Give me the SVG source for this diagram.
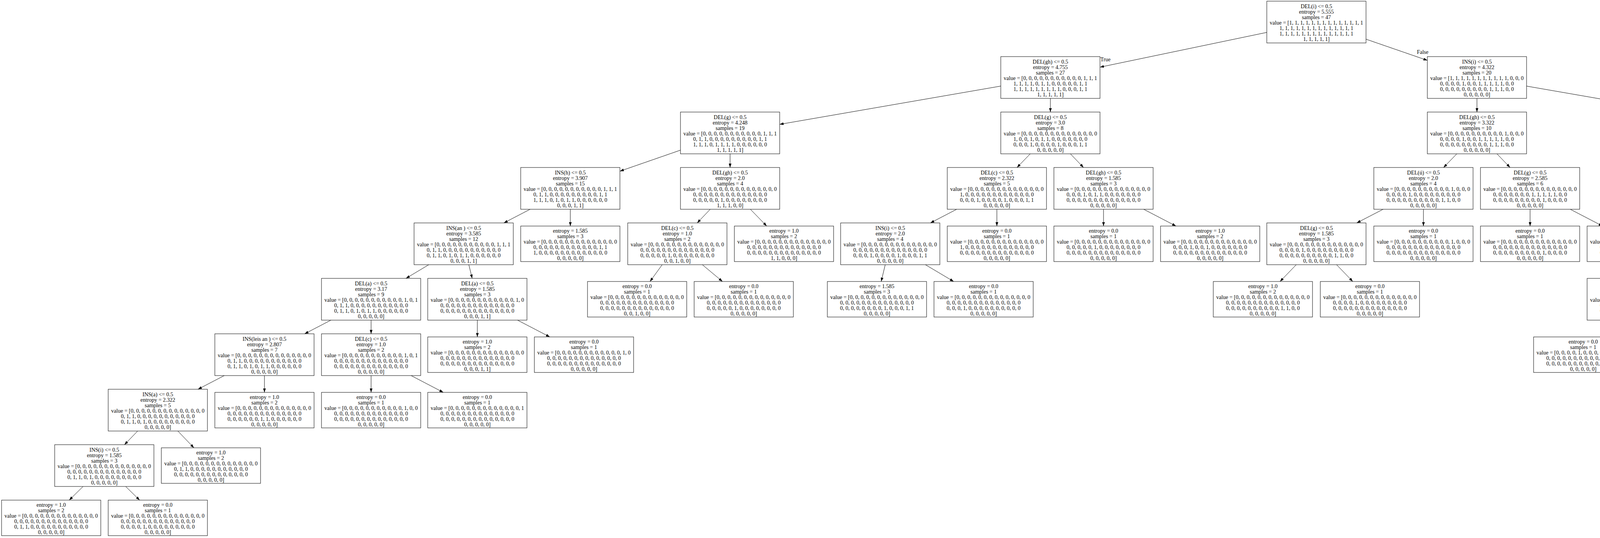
<svg xmlns="http://www.w3.org/2000/svg" width="6369" height="1378" viewBox="0 0 6369 1378">
<style>
.b{fill:#fff;stroke:#000;stroke-width:1}
text{font-family:"Liberation Serif","Times New Roman",serif;font-size:14px;text-anchor:middle;fill:#000}
.e{stroke:#000;stroke-width:1;fill:none;marker-end:url(#ah)}
</style>
<defs>
<marker id="ah" markerUnits="userSpaceOnUse" markerWidth="10" markerHeight="7" refX="10" refY="3.5" orient="auto"><path d="M0,0 L10,3.5 L0,7 z" fill="#000"/></marker>
</defs>
<rect x="0" y="0" width="6369" height="1378" fill="#fff"/>
<g id="edges">
<line class="e" x1="3243" y1="82.98" x2="2816" y2="172.02"/>
<line class="e" x1="3497" y1="100.38" x2="3654" y2="154.62"/>
<line class="e" x1="2562" y1="220.49" x2="1996" y2="318.51"/>
<line class="e" x1="2689" y1="252" x2="2689" y2="287"/>
<line class="e" x1="3781" y1="252" x2="3781" y2="287"/>
<line class="e" x1="3908" y1="220.55" x2="4472" y2="318.45"/>
<line class="e" x1="1742" y1="384.59" x2="1587" y2="438.41"/>
<line class="e" x1="1869" y1="394" x2="1869" y2="429"/>
<line class="e" x1="2637.38" y1="394" x2="2603.62" y2="429"/>
<line class="e" x1="2740.24" y1="394" x2="2773.76" y2="429"/>
<line class="e" x1="1357.14" y1="536" x2="1289.86" y2="571"/>
<line class="e" x1="1460" y1="536" x2="1460" y2="579"/>
<line class="e" x1="1818.14" y1="536" x2="1784.86" y2="571"/>
<line class="e" x1="1920.99" y1="536" x2="1962.78" y2="579"/>
<line class="e" x1="2449.14" y1="536" x2="2381.86" y2="571"/>
<line class="e" x1="2552" y1="536" x2="2552" y2="579"/>
<line class="e" x1="2825" y1="536" x2="2825" y2="579"/>
<line class="e" x1="2927.86" y1="536" x2="3010.53" y2="579"/>
<line class="e" x1="1097.71" y1="678" x2="1039.29" y2="713"/>
<line class="e" x1="1200.19" y1="678" x2="1208.81" y2="713"/>
<line class="e" x1="1695.19" y1="678" x2="1664" y2="721"/>
<line class="e" x1="1798.05" y1="678" x2="1849.53" y2="721"/>
<line class="e" x1="2266.19" y1="678" x2="2255.89" y2="721"/>
<line class="e" x1="2369.05" y1="678" x2="2441.42" y2="721"/>
<line class="e" x1="847.14" y1="820" x2="779.86" y2="855"/>
<line class="e" x1="950" y1="820" x2="950" y2="855"/>
<line class="e" x1="1222" y1="820" x2="1222" y2="863"/>
<line class="e" x1="1324.86" y1="820" x2="1407.53" y2="863"/>
<line class="e" x1="574.14" y1="962" x2="506.86" y2="997"/>
<line class="e" x1="677" y1="962" x2="677" y2="1005"/>
<line class="e" x1="950" y1="962" x2="950" y2="1005"/>
<line class="e" x1="1052.48" y1="962" x2="1134.85" y2="1005"/>
<line class="e" x1="352.38" y1="1104" x2="318.62" y2="1139"/>
<line class="e" x1="455.24" y1="1104" x2="496.42" y2="1147"/>
<line class="e" x1="212.7" y1="1246" x2="177.18" y2="1281"/>
<line class="e" x1="321.7" y1="1246" x2="357.48" y2="1281"/>
<line class="e" x1="3729.38" y1="394" x2="3695.62" y2="429"/>
<line class="e" x1="3832.24" y1="394" x2="3865.76" y2="429"/>
<line class="e" x1="4599" y1="394" x2="4599" y2="429"/>
<line class="e" x1="4726" y1="362.52" x2="5291" y2="460.48"/>
<line class="e" x1="3540.77" y1="536" x2="3473.23" y2="571"/>
<line class="e" x1="3644" y1="536" x2="3644" y2="579"/>
<line class="e" x1="3917" y1="536" x2="3917" y2="579"/>
<line class="e" x1="4019.86" y1="536" x2="4102.53" y2="579"/>
<line class="e" x1="4547.76" y1="536" x2="4514.24" y2="571"/>
<line class="e" x1="4650.62" y1="536" x2="4684.38" y2="571"/>
<line class="e" x1="5418" y1="536" x2="5418" y2="571"/>
<line class="e" x1="5545" y1="526.59" x2="5700" y2="580.41"/>
<line class="e" x1="3318.38" y1="678" x2="3276.9" y2="721"/>
<line class="e" x1="3421.62" y1="678" x2="3463.1" y2="721"/>
<line class="e" x1="4360.14" y1="678" x2="4292.86" y2="713"/>
<line class="e" x1="4463" y1="678" x2="4463" y2="721"/>
<line class="e" x1="4736" y1="678" x2="4736" y2="721"/>
<line class="e" x1="4838.86" y1="678" x2="4921.53" y2="721"/>
<line class="e" x1="5366.76" y1="678" x2="5325.58" y2="721"/>
<line class="e" x1="5469.62" y1="678" x2="5511.1" y2="721"/>
<line class="e" x1="5827" y1="678" x2="5827" y2="721"/>
<line class="e" x1="5930.23" y1="678" x2="5997.77" y2="713"/>
<line class="e" x1="4138.38" y1="820" x2="4096.9" y2="863"/>
<line class="e" x1="4241.24" y1="820" x2="4282.42" y2="863"/>
<line class="e" x1="6049.38" y1="820" x2="6007.9" y2="863"/>
<line class="e" x1="6152.24" y1="820" x2="6193.42" y2="863"/>
<text x="2830" y="156.5">True</text>
<text x="3642" y="137.5">False</text>
</g>

<g id="n0" transform="translate(3370,56.5)"><rect class="b" x="-127" y="-53.5" width="254" height="107"/><text y="-35.5"><tspan x="0">DEL(i) &lt;= 0.5</tspan><tspan x="0" dy="14">entropy = 5.555</tspan><tspan x="0" dy="14">samples = 47</tspan><tspan x="0" dy="14">value = [1, 1, 1, 1, 1, 1, 1, 1, 1, 1, 1, 1, 1, 1</tspan><tspan x="0" dy="14">1, 1, 1, 1, 1, 1, 1, 1, 1, 1, 1, 1, 1, 1</tspan><tspan x="0" dy="14">1, 1, 1, 1, 1, 1, 1, 1, 1, 1, 1, 1, 1, 1</tspan><tspan x="0" dy="14">1, 1, 1, 1, 1]</tspan></text></g>

<g id="n1" transform="translate(2689,198.5)"><rect class="b" x="-127" y="-53.5" width="254" height="107"/><text y="-35.5"><tspan x="0">DEL(gh) &lt;= 0.5</tspan><tspan x="0" dy="14">entropy = 4.755</tspan><tspan x="0" dy="14">samples = 27</tspan><tspan x="0" dy="14">value = [0, 0, 0, 0, 0, 0, 0, 0, 0, 0, 0, 1, 1, 1</tspan><tspan x="0" dy="14">1, 1, 1, 1, 0, 1, 1, 0, 0, 0, 0, 0, 1, 1</tspan><tspan x="0" dy="14">1, 1, 1, 1, 1, 1, 1, 1, 1, 0, 0, 0, 1, 1</tspan><tspan x="0" dy="14">1, 1, 1, 1, 1]</tspan></text></g>

<g id="n2" transform="translate(3781,198.5)"><rect class="b" x="-127" y="-53.5" width="254" height="107"/><text y="-35.5"><tspan x="0">INS(i) &lt;= 0.5</tspan><tspan x="0" dy="14">entropy = 4.322</tspan><tspan x="0" dy="14">samples = 20</tspan><tspan x="0" dy="14">value = [1, 1, 1, 1, 1, 1, 1, 1, 1, 1, 1, 0, 0, 0</tspan><tspan x="0" dy="14">0, 0, 0, 0, 1, 0, 0, 1, 1, 1, 1, 1, 0, 0</tspan><tspan x="0" dy="14">0, 0, 0, 0, 0, 0, 0, 0, 0, 1, 1, 1, 0, 0</tspan><tspan x="0" dy="14">0, 0, 0, 0, 0]</tspan></text></g>

<g id="n3" transform="translate(1869,340.5)"><rect class="b" x="-127" y="-53.5" width="254" height="107"/><text y="-35.5"><tspan x="0">DEL(g) &lt;= 0.5</tspan><tspan x="0" dy="14">entropy = 4.248</tspan><tspan x="0" dy="14">samples = 19</tspan><tspan x="0" dy="14">value = [0, 0, 0, 0, 0, 0, 0, 0, 0, 0, 0, 1, 1, 1</tspan><tspan x="0" dy="14">0, 1, 1, 0, 0, 0, 0, 0, 0, 0, 0, 0, 1, 1</tspan><tspan x="0" dy="14">1, 1, 1, 0, 1, 1, 1, 1, 0, 0, 0, 0, 0, 0</tspan><tspan x="0" dy="14">1, 1, 1, 1, 1]</tspan></text></g>

<g id="n4" transform="translate(2689,340.5)"><rect class="b" x="-127" y="-53.5" width="254" height="107"/><text y="-35.5"><tspan x="0">DEL(g) &lt;= 0.5</tspan><tspan x="0" dy="14">entropy = 3.0</tspan><tspan x="0" dy="14">samples = 8</tspan><tspan x="0" dy="14">value = [0, 0, 0, 0, 0, 0, 0, 0, 0, 0, 0, 0, 0, 0</tspan><tspan x="0" dy="14">1, 0, 0, 1, 0, 1, 1, 0, 0, 0, 0, 0, 0, 0</tspan><tspan x="0" dy="14">0, 0, 0, 1, 0, 0, 0, 0, 1, 0, 0, 0, 1, 1</tspan><tspan x="0" dy="14">0, 0, 0, 0, 0]</tspan></text></g>

<g id="n18" transform="translate(3781,340.5)"><rect class="b" x="-127" y="-53.5" width="254" height="107"/><text y="-35.5"><tspan x="0">DEL(gh) &lt;= 0.5</tspan><tspan x="0" dy="14">entropy = 3.322</tspan><tspan x="0" dy="14">samples = 10</tspan><tspan x="0" dy="14">value = [0, 0, 0, 0, 0, 0, 0, 0, 0, 0, 1, 0, 0, 0</tspan><tspan x="0" dy="14">0, 0, 0, 0, 1, 0, 0, 1, 1, 1, 1, 1, 0, 0</tspan><tspan x="0" dy="14">0, 0, 0, 0, 0, 0, 0, 0, 0, 1, 1, 1, 0, 0</tspan><tspan x="0" dy="14">0, 0, 0, 0, 0]</tspan></text></g>

<g id="n19" transform="translate(4599,340.5)"><rect class="b" x="-127" y="-53.5" width="254" height="107"/><text y="-35.5"><tspan x="0">INS(an ) &lt;= 0.5</tspan><tspan x="0" dy="14">entropy = 3.322</tspan><tspan x="0" dy="14">samples = 10</tspan><tspan x="0" dy="14">value = [1, 1, 1, 1, 1, 1, 1, 1, 1, 1, 0, 0, 0, 0</tspan><tspan x="0" dy="14">0, 0, 0, 0, 0, 0, 0, 0, 0, 0, 0, 0, 0, 0</tspan><tspan x="0" dy="14">0, 0, 0, 0, 0, 0, 0, 0, 0, 0, 0, 0, 0, 0</tspan><tspan x="0" dy="14">0, 0, 0, 0, 0]</tspan></text></g>

<g id="n5" transform="translate(1460,482.5)"><rect class="b" x="-127" y="-53.5" width="254" height="107"/><text y="-35.5"><tspan x="0">INS(h) &lt;= 0.5</tspan><tspan x="0" dy="14">entropy = 3.907</tspan><tspan x="0" dy="14">samples = 15</tspan><tspan x="0" dy="14">value = [0, 0, 0, 0, 0, 0, 0, 0, 0, 0, 0, 1, 1, 1</tspan><tspan x="0" dy="14">0, 1, 1, 0, 0, 0, 0, 0, 0, 0, 0, 0, 1, 1</tspan><tspan x="0" dy="14">1, 1, 1, 0, 1, 0, 1, 1, 0, 0, 0, 0, 0, 0</tspan><tspan x="0" dy="14">0, 0, 0, 1, 1]</tspan></text></g>

<g id="n6" transform="translate(1869,482.5)"><rect class="b" x="-127" y="-53.5" width="254" height="107"/><text y="-35.5"><tspan x="0">DEL(gh) &lt;= 0.5</tspan><tspan x="0" dy="14">entropy = 2.0</tspan><tspan x="0" dy="14">samples = 4</tspan><tspan x="0" dy="14">value = [0, 0, 0, 0, 0, 0, 0, 0, 0, 0, 0, 0, 0, 0</tspan><tspan x="0" dy="14">0, 0, 0, 0, 0, 0, 0, 0, 0, 0, 0, 0, 0, 0</tspan><tspan x="0" dy="14">0, 0, 0, 0, 0, 1, 0, 0, 0, 0, 0, 0, 0, 0</tspan><tspan x="0" dy="14">1, 1, 1, 0, 0]</tspan></text></g>

<g id="n7" transform="translate(2552,482.5)"><rect class="b" x="-127" y="-53.5" width="254" height="107"/><text y="-35.5"><tspan x="0">DEL(c) &lt;= 0.5</tspan><tspan x="0" dy="14">entropy = 2.322</tspan><tspan x="0" dy="14">samples = 5</tspan><tspan x="0" dy="14">value = [0, 0, 0, 0, 0, 0, 0, 0, 0, 0, 0, 0, 0, 0</tspan><tspan x="0" dy="14">1, 0, 0, 0, 0, 0, 0, 0, 0, 0, 0, 0, 0, 0</tspan><tspan x="0" dy="14">0, 0, 0, 1, 0, 0, 0, 0, 1, 0, 0, 0, 1, 1</tspan><tspan x="0" dy="14">0, 0, 0, 0, 0]</tspan></text></g>

<g id="n8" transform="translate(2825,482.5)"><rect class="b" x="-127" y="-53.5" width="254" height="107"/><text y="-35.5"><tspan x="0">DEL(gh) &lt;= 0.5</tspan><tspan x="0" dy="14">entropy = 1.585</tspan><tspan x="0" dy="14">samples = 3</tspan><tspan x="0" dy="14">value = [0, 0, 0, 0, 0, 0, 0, 0, 0, 0, 0, 0, 0, 0</tspan><tspan x="0" dy="14">0, 0, 0, 1, 0, 1, 1, 0, 0, 0, 0, 0, 0, 0</tspan><tspan x="0" dy="14">0, 0, 0, 0, 0, 0, 0, 0, 0, 0, 0, 0, 0, 0</tspan><tspan x="0" dy="14">0, 0, 0, 0, 0]</tspan></text></g>

<g id="n20" transform="translate(3644,482.5)"><rect class="b" x="-127" y="-53.5" width="254" height="107"/><text y="-35.5"><tspan x="0">DEL(ú) &lt;= 0.5</tspan><tspan x="0" dy="14">entropy = 2.0</tspan><tspan x="0" dy="14">samples = 4</tspan><tspan x="0" dy="14">value = [0, 0, 0, 0, 0, 0, 0, 0, 0, 0, 1, 0, 0, 0</tspan><tspan x="0" dy="14">0, 0, 0, 0, 1, 0, 0, 0, 0, 0, 0, 0, 0, 0</tspan><tspan x="0" dy="14">0, 0, 0, 0, 0, 0, 0, 0, 0, 0, 1, 1, 0, 0</tspan><tspan x="0" dy="14">0, 0, 0, 0, 0]</tspan></text></g>

<g id="n21" transform="translate(3917,482.5)"><rect class="b" x="-127" y="-53.5" width="254" height="107"/><text y="-35.5"><tspan x="0">DEL(g) &lt;= 0.5</tspan><tspan x="0" dy="14">entropy = 2.585</tspan><tspan x="0" dy="14">samples = 6</tspan><tspan x="0" dy="14">value = [0, 0, 0, 0, 0, 0, 0, 0, 0, 0, 0, 0, 0, 0</tspan><tspan x="0" dy="14">0, 0, 0, 0, 0, 0, 0, 1, 1, 1, 1, 1, 0, 0</tspan><tspan x="0" dy="14">0, 0, 0, 0, 0, 0, 0, 0, 0, 1, 0, 0, 0, 0</tspan><tspan x="0" dy="14">0, 0, 0, 0, 0]</tspan></text></g>

<g id="n22" transform="translate(4599,482.5)"><rect class="b" x="-127" y="-53.5" width="254" height="107"/><text y="-35.5"><tspan x="0">DEL(igh) &lt;= 0.5</tspan><tspan x="0" dy="14">entropy = 2.322</tspan><tspan x="0" dy="14">samples = 5</tspan><tspan x="0" dy="14">value = [0, 0, 1, 1, 1, 0, 1, 1, 0, 0, 0, 0, 0, 0</tspan><tspan x="0" dy="14">0, 0, 0, 0, 0, 0, 0, 0, 0, 0, 0, 0, 0, 0</tspan><tspan x="0" dy="14">0, 0, 0, 0, 0, 0, 0, 0, 0, 0, 0, 0, 0, 0</tspan><tspan x="0" dy="14">0, 0, 0, 0, 0]</tspan></text></g>

<g id="n23" transform="translate(5418,482.5)"><rect class="b" x="-127" y="-53.5" width="254" height="107"/><text y="-35.5"><tspan x="0">INS(h) &lt;= 0.5</tspan><tspan x="0" dy="14">entropy = 2.322</tspan><tspan x="0" dy="14">samples = 5</tspan><tspan x="0" dy="14">value = [1, 1, 0, 0, 0, 1, 0, 0, 1, 1, 0, 0, 0, 0</tspan><tspan x="0" dy="14">0, 0, 0, 0, 0, 0, 0, 0, 0, 0, 0, 0, 0, 0</tspan><tspan x="0" dy="14">0, 0, 0, 0, 0, 0, 0, 0, 0, 0, 0, 0, 0, 0</tspan><tspan x="0" dy="14">0, 0, 0, 0, 0]</tspan></text></g>

<g id="n9" transform="translate(1187,624.5)"><rect class="b" x="-127" y="-53.5" width="254" height="107"/><text y="-35.5"><tspan x="0">INS(an ) &lt;= 0.5</tspan><tspan x="0" dy="14">entropy = 3.585</tspan><tspan x="0" dy="14">samples = 12</tspan><tspan x="0" dy="14">value = [0, 0, 0, 0, 0, 0, 0, 0, 0, 0, 0, 1, 1, 1</tspan><tspan x="0" dy="14">0, 1, 1, 0, 0, 0, 0, 0, 0, 0, 0, 0, 0, 0</tspan><tspan x="0" dy="14">0, 1, 1, 0, 1, 0, 1, 1, 0, 0, 0, 0, 0, 0</tspan><tspan x="0" dy="14">0, 0, 0, 1, 1]</tspan></text></g>

<g id="n10" transform="translate(1734,624.5)"><rect class="b" x="-127" y="-53.5" width="254" height="107"/><text y="-35.5"><tspan x="0">DEL(c) &lt;= 0.5</tspan><tspan x="0" dy="14">entropy = 1.0</tspan><tspan x="0" dy="14">samples = 2</tspan><tspan x="0" dy="14">value = [0, 0, 0, 0, 0, 0, 0, 0, 0, 0, 0, 0, 0, 0</tspan><tspan x="0" dy="14">0, 0, 0, 0, 0, 0, 0, 0, 0, 0, 0, 0, 0, 0</tspan><tspan x="0" dy="14">0, 0, 0, 0, 0, 1, 0, 0, 0, 0, 0, 0, 0, 0</tspan><tspan x="0" dy="14">0, 0, 1, 0, 0]</tspan></text></g>

<g id="n11" transform="translate(2279,624.5)"><rect class="b" x="-127" y="-53.5" width="254" height="107"/><text y="-35.5"><tspan x="0">INS(i) &lt;= 0.5</tspan><tspan x="0" dy="14">entropy = 2.0</tspan><tspan x="0" dy="14">samples = 4</tspan><tspan x="0" dy="14">value = [0, 0, 0, 0, 0, 0, 0, 0, 0, 0, 0, 0, 0, 0</tspan><tspan x="0" dy="14">0, 0, 0, 0, 0, 0, 0, 0, 0, 0, 0, 0, 0, 0</tspan><tspan x="0" dy="14">0, 0, 0, 1, 0, 0, 0, 0, 1, 0, 0, 0, 1, 1</tspan><tspan x="0" dy="14">0, 0, 0, 0, 0]</tspan></text></g>

<g id="n24" transform="translate(3370,624.5)"><rect class="b" x="-127" y="-53.5" width="254" height="107"/><text y="-35.5"><tspan x="0">DEL(g) &lt;= 0.5</tspan><tspan x="0" dy="14">entropy = 1.585</tspan><tspan x="0" dy="14">samples = 3</tspan><tspan x="0" dy="14">value = [0, 0, 0, 0, 0, 0, 0, 0, 0, 0, 0, 0, 0, 0</tspan><tspan x="0" dy="14">0, 0, 0, 0, 1, 0, 0, 0, 0, 0, 0, 0, 0, 0</tspan><tspan x="0" dy="14">0, 0, 0, 0, 0, 0, 0, 0, 0, 0, 1, 1, 0, 0</tspan><tspan x="0" dy="14">0, 0, 0, 0, 0]</tspan></text></g>

<g id="n25" transform="translate(4463,624.5)"><rect class="b" x="-127" y="-53.5" width="254" height="107"/><text y="-35.5"><tspan x="0">INS(leis an ) &lt;= 0.5</tspan><tspan x="0" dy="14">entropy = 1.585</tspan><tspan x="0" dy="14">samples = 3</tspan><tspan x="0" dy="14">value = [0, 0, 1, 0, 1, 0, 0, 1, 0, 0, 0, 0, 0, 0</tspan><tspan x="0" dy="14">0, 0, 0, 0, 0, 0, 0, 0, 0, 0, 0, 0, 0, 0</tspan><tspan x="0" dy="14">0, 0, 0, 0, 0, 0, 0, 0, 0, 0, 0, 0, 0, 0</tspan><tspan x="0" dy="14">0, 0, 0, 0, 0]</tspan></text></g>

<g id="n26" transform="translate(4736,624.5)"><rect class="b" x="-127" y="-53.5" width="254" height="107"/><text y="-35.5"><tspan x="0">DEL(e) &lt;= 0.5</tspan><tspan x="0" dy="14">entropy = 1.0</tspan><tspan x="0" dy="14">samples = 2</tspan><tspan x="0" dy="14">value = [0, 0, 0, 1, 0, 0, 1, 0, 0, 0, 0, 0, 0, 0</tspan><tspan x="0" dy="14">0, 0, 0, 0, 0, 0, 0, 0, 0, 0, 0, 0, 0, 0</tspan><tspan x="0" dy="14">0, 0, 0, 0, 0, 0, 0, 0, 0, 0, 0, 0, 0, 0</tspan><tspan x="0" dy="14">0, 0, 0, 0, 0]</tspan></text></g>

<g id="n27" transform="translate(5418,624.5)"><rect class="b" x="-127" y="-53.5" width="254" height="107"/><text y="-35.5"><tspan x="0">INS(a) &lt;= 0.5</tspan><tspan x="0" dy="14">entropy = 1.0</tspan><tspan x="0" dy="14">samples = 2</tspan><tspan x="0" dy="14">value = [0, 0, 0, 0, 0, 1, 0, 0, 1, 0, 0, 0, 0, 0</tspan><tspan x="0" dy="14">0, 0, 0, 0, 0, 0, 0, 0, 0, 0, 0, 0, 0, 0</tspan><tspan x="0" dy="14">0, 0, 0, 0, 0, 0, 0, 0, 0, 0, 0, 0, 0, 0</tspan><tspan x="0" dy="14">0, 0, 0, 0, 0]</tspan></text></g>

<g id="n28" transform="translate(5827,624.5)"><rect class="b" x="-127" y="-53.5" width="254" height="107"/><text y="-35.5"><tspan x="0">DEL(e) &lt;= 0.5</tspan><tspan x="0" dy="14">entropy = 1.585</tspan><tspan x="0" dy="14">samples = 3</tspan><tspan x="0" dy="14">value = [1, 1, 0, 0, 0, 0, 0, 0, 0, 1, 0, 0, 0, 0</tspan><tspan x="0" dy="14">0, 0, 0, 0, 0, 0, 0, 0, 0, 0, 0, 0, 0, 0</tspan><tspan x="0" dy="14">0, 0, 0, 0, 0, 0, 0, 0, 0, 0, 0, 0, 0, 0</tspan><tspan x="0" dy="14">0, 0, 0, 0, 0]</tspan></text></g>

<g id="n12" transform="translate(950,766.5)"><rect class="b" x="-127" y="-53.5" width="254" height="107"/><text y="-35.5"><tspan x="0">DEL(a) &lt;= 0.5</tspan><tspan x="0" dy="14">entropy = 3.17</tspan><tspan x="0" dy="14">samples = 9</tspan><tspan x="0" dy="14">value = [0, 0, 0, 0, 0, 0, 0, 0, 0, 0, 0, 1, 0, 1</tspan><tspan x="0" dy="14">0, 1, 1, 0, 0, 0, 0, 0, 0, 0, 0, 0, 0, 0</tspan><tspan x="0" dy="14">0, 1, 1, 0, 1, 0, 1, 1, 0, 0, 0, 0, 0, 0</tspan><tspan x="0" dy="14">0, 0, 0, 0, 0]</tspan></text></g>

<g id="n13" transform="translate(1222,766.5)"><rect class="b" x="-127" y="-53.5" width="254" height="107"/><text y="-35.5"><tspan x="0">DEL(a) &lt;= 0.5</tspan><tspan x="0" dy="14">entropy = 1.585</tspan><tspan x="0" dy="14">samples = 3</tspan><tspan x="0" dy="14">value = [0, 0, 0, 0, 0, 0, 0, 0, 0, 0, 0, 0, 1, 0</tspan><tspan x="0" dy="14">0, 0, 0, 0, 0, 0, 0, 0, 0, 0, 0, 0, 0, 0</tspan><tspan x="0" dy="14">0, 0, 0, 0, 0, 0, 0, 0, 0, 0, 0, 0, 0, 0</tspan><tspan x="0" dy="14">0, 0, 0, 1, 1]</tspan></text></g>

<g id="n29" transform="translate(4190,766.5)"><rect class="b" x="-127" y="-53.5" width="254" height="107"/><text y="-35.5"><tspan x="0">INS(a ) &lt;= 0.5</tspan><tspan x="0" dy="14">entropy = 1.0</tspan><tspan x="0" dy="14">samples = 2</tspan><tspan x="0" dy="14">value = [0, 0, 0, 0, 1, 0, 0, 1, 0, 0, 0, 0, 0, 0</tspan><tspan x="0" dy="14">0, 0, 0, 0, 0, 0, 0, 0, 0, 0, 0, 0, 0, 0</tspan><tspan x="0" dy="14">0, 0, 0, 0, 0, 0, 0, 0, 0, 0, 0, 0, 0, 0</tspan><tspan x="0" dy="14">0, 0, 0, 0, 0]</tspan></text></g>

<g id="n30" transform="translate(6101,766.5)"><rect class="b" x="-127" y="-53.5" width="254" height="107"/><text y="-35.5"><tspan x="0">INS(a ) &lt;= 0.5</tspan><tspan x="0" dy="14">entropy = 1.0</tspan><tspan x="0" dy="14">samples = 2</tspan><tspan x="0" dy="14">value = [1, 1, 0, 0, 0, 0, 0, 0, 0, 0, 0, 0, 0, 0</tspan><tspan x="0" dy="14">0, 0, 0, 0, 0, 0, 0, 0, 0, 0, 0, 0, 0, 0</tspan><tspan x="0" dy="14">0, 0, 0, 0, 0, 0, 0, 0, 0, 0, 0, 0, 0, 0</tspan><tspan x="0" dy="14">0, 0, 0, 0, 0]</tspan></text></g>

<g id="n14" transform="translate(677,908.5)"><rect class="b" x="-127" y="-53.5" width="254" height="107"/><text y="-35.5"><tspan x="0">INS(leis an ) &lt;= 0.5</tspan><tspan x="0" dy="14">entropy = 2.807</tspan><tspan x="0" dy="14">samples = 7</tspan><tspan x="0" dy="14">value = [0, 0, 0, 0, 0, 0, 0, 0, 0, 0, 0, 0, 0, 0</tspan><tspan x="0" dy="14">0, 1, 1, 0, 0, 0, 0, 0, 0, 0, 0, 0, 0, 0</tspan><tspan x="0" dy="14">0, 1, 1, 0, 1, 0, 1, 1, 0, 0, 0, 0, 0, 0</tspan><tspan x="0" dy="14">0, 0, 0, 0, 0]</tspan></text></g>

<g id="n15" transform="translate(950,908.5)"><rect class="b" x="-127" y="-53.5" width="254" height="107"/><text y="-35.5"><tspan x="0">DEL(c) &lt;= 0.5</tspan><tspan x="0" dy="14">entropy = 1.0</tspan><tspan x="0" dy="14">samples = 2</tspan><tspan x="0" dy="14">value = [0, 0, 0, 0, 0, 0, 0, 0, 0, 0, 0, 1, 0, 1</tspan><tspan x="0" dy="14">0, 0, 0, 0, 0, 0, 0, 0, 0, 0, 0, 0, 0, 0</tspan><tspan x="0" dy="14">0, 0, 0, 0, 0, 0, 0, 0, 0, 0, 0, 0, 0, 0</tspan><tspan x="0" dy="14">0, 0, 0, 0, 0]</tspan></text></g>

<g id="n16" transform="translate(404,1050.5)"><rect class="b" x="-127" y="-53.5" width="254" height="107"/><text y="-35.5"><tspan x="0">INS(a) &lt;= 0.5</tspan><tspan x="0" dy="14">entropy = 2.322</tspan><tspan x="0" dy="14">samples = 5</tspan><tspan x="0" dy="14">value = [0, 0, 0, 0, 0, 0, 0, 0, 0, 0, 0, 0, 0, 0</tspan><tspan x="0" dy="14">0, 1, 1, 0, 0, 0, 0, 0, 0, 0, 0, 0, 0, 0</tspan><tspan x="0" dy="14">0, 1, 1, 0, 1, 0, 0, 0, 0, 0, 0, 0, 0, 0</tspan><tspan x="0" dy="14">0, 0, 0, 0, 0]</tspan></text></g>

<g id="n17" transform="translate(267,1192.5)"><rect class="b" x="-127" y="-53.5" width="254" height="107"/><text y="-35.5"><tspan x="0">INS(i) &lt;= 0.5</tspan><tspan x="0" dy="14">entropy = 1.585</tspan><tspan x="0" dy="14">samples = 3</tspan><tspan x="0" dy="14">value = [0, 0, 0, 0, 0, 0, 0, 0, 0, 0, 0, 0, 0, 0</tspan><tspan x="0" dy="14">0, 0, 0, 0, 0, 0, 0, 0, 0, 0, 0, 0, 0, 0</tspan><tspan x="0" dy="14">0, 1, 1, 0, 1, 0, 0, 0, 0, 0, 0, 0, 0, 0</tspan><tspan x="0" dy="14">0, 0, 0, 0, 0]</tspan></text></g>

<g id="leaf_a" transform="translate(1460,624.5)"><rect class="b" x="-127" y="-45.5" width="254" height="91"/><text y="-28.5"><tspan x="0">entropy = 1.585</tspan><tspan x="0" dy="14">samples = 3</tspan><tspan x="0" dy="14">value = [0, 0, 0, 0, 0, 0, 0, 0, 0, 0, 0, 0, 0, 0</tspan><tspan x="0" dy="14">0, 0, 0, 0, 0, 0, 0, 0, 0, 0, 0, 0, 1, 1</tspan><tspan x="0" dy="14">1, 0, 0, 0, 0, 0, 0, 0, 0, 0, 0, 0, 0, 0</tspan><tspan x="0" dy="14">0, 0, 0, 0, 0]</tspan></text></g>

<g id="leaf_b" transform="translate(2007,624.5)"><rect class="b" x="-127" y="-45.5" width="254" height="91"/><text y="-28.5"><tspan x="0">entropy = 1.0</tspan><tspan x="0" dy="14">samples = 2</tspan><tspan x="0" dy="14">value = [0, 0, 0, 0, 0, 0, 0, 0, 0, 0, 0, 0, 0, 0</tspan><tspan x="0" dy="14">0, 0, 0, 0, 0, 0, 0, 0, 0, 0, 0, 0, 0, 0</tspan><tspan x="0" dy="14">0, 0, 0, 0, 0, 0, 0, 0, 0, 0, 0, 0, 0, 0</tspan><tspan x="0" dy="14">1, 1, 0, 0, 0]</tspan></text></g>

<g id="leaf_c" transform="translate(2552,624.5)"><rect class="b" x="-127" y="-45.5" width="254" height="91"/><text y="-28.5"><tspan x="0">entropy = 0.0</tspan><tspan x="0" dy="14">samples = 1</tspan><tspan x="0" dy="14">value = [0, 0, 0, 0, 0, 0, 0, 0, 0, 0, 0, 0, 0, 0</tspan><tspan x="0" dy="14">1, 0, 0, 0, 0, 0, 0, 0, 0, 0, 0, 0, 0, 0</tspan><tspan x="0" dy="14">0, 0, 0, 0, 0, 0, 0, 0, 0, 0, 0, 0, 0, 0</tspan><tspan x="0" dy="14">0, 0, 0, 0, 0]</tspan></text></g>

<g id="leaf_d" transform="translate(2825,624.5)"><rect class="b" x="-127" y="-45.5" width="254" height="91"/><text y="-28.5"><tspan x="0">entropy = 0.0</tspan><tspan x="0" dy="14">samples = 1</tspan><tspan x="0" dy="14">value = [0, 0, 0, 0, 0, 0, 0, 0, 0, 0, 0, 0, 0, 0</tspan><tspan x="0" dy="14">0, 0, 0, 0, 0, 1, 0, 0, 0, 0, 0, 0, 0, 0</tspan><tspan x="0" dy="14">0, 0, 0, 0, 0, 0, 0, 0, 0, 0, 0, 0, 0, 0</tspan><tspan x="0" dy="14">0, 0, 0, 0, 0]</tspan></text></g>

<g id="leaf_e" transform="translate(3098,624.5)"><rect class="b" x="-127" y="-45.5" width="254" height="91"/><text y="-28.5"><tspan x="0">entropy = 1.0</tspan><tspan x="0" dy="14">samples = 2</tspan><tspan x="0" dy="14">value = [0, 0, 0, 0, 0, 0, 0, 0, 0, 0, 0, 0, 0, 0</tspan><tspan x="0" dy="14">0, 0, 0, 1, 0, 0, 1, 0, 0, 0, 0, 0, 0, 0</tspan><tspan x="0" dy="14">0, 0, 0, 0, 0, 0, 0, 0, 0, 0, 0, 0, 0, 0</tspan><tspan x="0" dy="14">0, 0, 0, 0, 0]</tspan></text></g>

<g id="leaf_10" transform="translate(3644,624.5)"><rect class="b" x="-127" y="-45.5" width="254" height="91"/><text y="-28.5"><tspan x="0">entropy = 0.0</tspan><tspan x="0" dy="14">samples = 1</tspan><tspan x="0" dy="14">value = [0, 0, 0, 0, 0, 0, 0, 0, 0, 0, 1, 0, 0, 0</tspan><tspan x="0" dy="14">0, 0, 0, 0, 0, 0, 0, 0, 0, 0, 0, 0, 0, 0</tspan><tspan x="0" dy="14">0, 0, 0, 0, 0, 0, 0, 0, 0, 0, 0, 0, 0, 0</tspan><tspan x="0" dy="14">0, 0, 0, 0, 0]</tspan></text></g>

<g id="leaf_37" transform="translate(3917,624.5)"><rect class="b" x="-127" y="-45.5" width="254" height="91"/><text y="-28.5"><tspan x="0">entropy = 0.0</tspan><tspan x="0" dy="14">samples = 1</tspan><tspan x="0" dy="14">value = [0, 0, 0, 0, 0, 0, 0, 0, 0, 0, 0, 0, 0, 0</tspan><tspan x="0" dy="14">0, 0, 0, 0, 0, 0, 0, 0, 0, 0, 0, 0, 0, 0</tspan><tspan x="0" dy="14">0, 0, 0, 0, 0, 0, 0, 0, 0, 1, 0, 0, 0, 0</tspan><tspan x="0" dy="14">0, 0, 0, 0, 0]</tspan></text></g>

<g id="leaf_21" transform="translate(4190,624.5)"><rect class="b" x="-127" y="-45.5" width="254" height="91"/><text y="-28.5"><tspan x="0">entropy = 2.322</tspan><tspan x="0" dy="14">samples = 5</tspan><tspan x="0" dy="14">value = [0, 0, 0, 0, 0, 0, 0, 0, 0, 0, 0, 0, 0, 0</tspan><tspan x="0" dy="14">0, 0, 0, 0, 0, 0, 0, 1, 1, 1, 1, 1, 0, 0</tspan><tspan x="0" dy="14">0, 0, 0, 0, 0, 0, 0, 0, 0, 0, 0, 0, 0, 0</tspan><tspan x="0" dy="14">0, 0, 0, 0, 0]</tspan></text></g>

<g id="leaf_f" transform="translate(1631,766.5)"><rect class="b" x="-127" y="-45.5" width="254" height="91"/><text y="-28.5"><tspan x="0">entropy = 0.0</tspan><tspan x="0" dy="14">samples = 1</tspan><tspan x="0" dy="14">value = [0, 0, 0, 0, 0, 0, 0, 0, 0, 0, 0, 0, 0, 0</tspan><tspan x="0" dy="14">0, 0, 0, 0, 0, 0, 0, 0, 0, 0, 0, 0, 0, 0</tspan><tspan x="0" dy="14">0, 0, 0, 0, 0, 0, 0, 0, 0, 0, 0, 0, 0, 0</tspan><tspan x="0" dy="14">0, 0, 1, 0, 0]</tspan></text></g>

<g id="leaf_g" transform="translate(1904,766.5)"><rect class="b" x="-127" y="-45.5" width="254" height="91"/><text y="-28.5"><tspan x="0">entropy = 0.0</tspan><tspan x="0" dy="14">samples = 1</tspan><tspan x="0" dy="14">value = [0, 0, 0, 0, 0, 0, 0, 0, 0, 0, 0, 0, 0, 0</tspan><tspan x="0" dy="14">0, 0, 0, 0, 0, 0, 0, 0, 0, 0, 0, 0, 0, 0</tspan><tspan x="0" dy="14">0, 0, 0, 0, 0, 1, 0, 0, 0, 0, 0, 0, 0, 0</tspan><tspan x="0" dy="14">0, 0, 0, 0, 0]</tspan></text></g>

<g id="leaf_h" transform="translate(2245,766.5)"><rect class="b" x="-127" y="-45.5" width="254" height="91"/><text y="-28.5"><tspan x="0">entropy = 1.585</tspan><tspan x="0" dy="14">samples = 3</tspan><tspan x="0" dy="14">value = [0, 0, 0, 0, 0, 0, 0, 0, 0, 0, 0, 0, 0, 0</tspan><tspan x="0" dy="14">0, 0, 0, 0, 0, 0, 0, 0, 0, 0, 0, 0, 0, 0</tspan><tspan x="0" dy="14">0, 0, 0, 0, 0, 0, 0, 0, 1, 0, 0, 0, 1, 1</tspan><tspan x="0" dy="14">0, 0, 0, 0, 0]</tspan></text></g>

<g id="leaf_i" transform="translate(2518,766.5)"><rect class="b" x="-127" y="-45.5" width="254" height="91"/><text y="-28.5"><tspan x="0">entropy = 0.0</tspan><tspan x="0" dy="14">samples = 1</tspan><tspan x="0" dy="14">value = [0, 0, 0, 0, 0, 0, 0, 0, 0, 0, 0, 0, 0, 0</tspan><tspan x="0" dy="14">0, 0, 0, 0, 0, 0, 0, 0, 0, 0, 0, 0, 0, 0</tspan><tspan x="0" dy="14">0, 0, 0, 1, 0, 0, 0, 0, 0, 0, 0, 0, 0, 0</tspan><tspan x="0" dy="14">0, 0, 0, 0, 0]</tspan></text></g>

<g id="leaf_38" transform="translate(3233,766.5)"><rect class="b" x="-127" y="-45.5" width="254" height="91"/><text y="-28.5"><tspan x="0">entropy = 1.0</tspan><tspan x="0" dy="14">samples = 2</tspan><tspan x="0" dy="14">value = [0, 0, 0, 0, 0, 0, 0, 0, 0, 0, 0, 0, 0, 0</tspan><tspan x="0" dy="14">0, 0, 0, 0, 0, 0, 0, 0, 0, 0, 0, 0, 0, 0</tspan><tspan x="0" dy="14">0, 0, 0, 0, 0, 0, 0, 0, 0, 0, 1, 1, 0, 0</tspan><tspan x="0" dy="14">0, 0, 0, 0, 0]</tspan></text></g>

<g id="leaf_18" transform="translate(3507,766.5)"><rect class="b" x="-127" y="-45.5" width="254" height="91"/><text y="-28.5"><tspan x="0">entropy = 0.0</tspan><tspan x="0" dy="14">samples = 1</tspan><tspan x="0" dy="14">value = [0, 0, 0, 0, 0, 0, 0, 0, 0, 0, 0, 0, 0, 0</tspan><tspan x="0" dy="14">0, 0, 0, 0, 1, 0, 0, 0, 0, 0, 0, 0, 0, 0</tspan><tspan x="0" dy="14">0, 0, 0, 0, 0, 0, 0, 0, 0, 0, 0, 0, 0, 0</tspan><tspan x="0" dy="14">0, 0, 0, 0, 0]</tspan></text></g>

<g id="leaf_2" transform="translate(4463,766.5)"><rect class="b" x="-127" y="-45.5" width="254" height="91"/><text y="-28.5"><tspan x="0">entropy = 0.0</tspan><tspan x="0" dy="14">samples = 1</tspan><tspan x="0" dy="14">value = [0, 0, 1, 0, 0, 0, 0, 0, 0, 0, 0, 0, 0, 0</tspan><tspan x="0" dy="14">0, 0, 0, 0, 0, 0, 0, 0, 0, 0, 0, 0, 0, 0</tspan><tspan x="0" dy="14">0, 0, 0, 0, 0, 0, 0, 0, 0, 0, 0, 0, 0, 0</tspan><tspan x="0" dy="14">0, 0, 0, 0, 0]</tspan></text></g>

<g id="leaf_3" transform="translate(4736,766.5)"><rect class="b" x="-127" y="-45.5" width="254" height="91"/><text y="-28.5"><tspan x="0">entropy = 0.0</tspan><tspan x="0" dy="14">samples = 1</tspan><tspan x="0" dy="14">value = [0, 0, 0, 1, 0, 0, 0, 0, 0, 0, 0, 0, 0, 0</tspan><tspan x="0" dy="14">0, 0, 0, 0, 0, 0, 0, 0, 0, 0, 0, 0, 0, 0</tspan><tspan x="0" dy="14">0, 0, 0, 0, 0, 0, 0, 0, 0, 0, 0, 0, 0, 0</tspan><tspan x="0" dy="14">0, 0, 0, 0, 0]</tspan></text></g>

<g id="leaf_6" transform="translate(5009,766.5)"><rect class="b" x="-127" y="-45.5" width="254" height="91"/><text y="-28.5"><tspan x="0">entropy = 0.0</tspan><tspan x="0" dy="14">samples = 1</tspan><tspan x="0" dy="14">value = [0, 0, 0, 0, 0, 0, 1, 0, 0, 0, 0, 0, 0, 0</tspan><tspan x="0" dy="14">0, 0, 0, 0, 0, 0, 0, 0, 0, 0, 0, 0, 0, 0</tspan><tspan x="0" dy="14">0, 0, 0, 0, 0, 0, 0, 0, 0, 0, 0, 0, 0, 0</tspan><tspan x="0" dy="14">0, 0, 0, 0, 0]</tspan></text></g>

<g id="leaf_8" transform="translate(5282,766.5)"><rect class="b" x="-127" y="-45.5" width="254" height="91"/><text y="-28.5"><tspan x="0">entropy = 0.0</tspan><tspan x="0" dy="14">samples = 1</tspan><tspan x="0" dy="14">value = [0, 0, 0, 0, 0, 0, 0, 0, 1, 0, 0, 0, 0, 0</tspan><tspan x="0" dy="14">0, 0, 0, 0, 0, 0, 0, 0, 0, 0, 0, 0, 0, 0</tspan><tspan x="0" dy="14">0, 0, 0, 0, 0, 0, 0, 0, 0, 0, 0, 0, 0, 0</tspan><tspan x="0" dy="14">0, 0, 0, 0, 0]</tspan></text></g>

<g id="leaf_5" transform="translate(5555,766.5)"><rect class="b" x="-127" y="-45.5" width="254" height="91"/><text y="-28.5"><tspan x="0">entropy = 0.0</tspan><tspan x="0" dy="14">samples = 1</tspan><tspan x="0" dy="14">value = [0, 0, 0, 0, 0, 1, 0, 0, 0, 0, 0, 0, 0, 0</tspan><tspan x="0" dy="14">0, 0, 0, 0, 0, 0, 0, 0, 0, 0, 0, 0, 0, 0</tspan><tspan x="0" dy="14">0, 0, 0, 0, 0, 0, 0, 0, 0, 0, 0, 0, 0, 0</tspan><tspan x="0" dy="14">0, 0, 0, 0, 0]</tspan></text></g>

<g id="leaf_9" transform="translate(5827,766.5)"><rect class="b" x="-127" y="-45.5" width="254" height="91"/><text y="-28.5"><tspan x="0">entropy = 0.0</tspan><tspan x="0" dy="14">samples = 1</tspan><tspan x="0" dy="14">value = [0, 0, 0, 0, 0, 0, 0, 0, 0, 1, 0, 0, 0, 0</tspan><tspan x="0" dy="14">0, 0, 0, 0, 0, 0, 0, 0, 0, 0, 0, 0, 0, 0</tspan><tspan x="0" dy="14">0, 0, 0, 0, 0, 0, 0, 0, 0, 0, 0, 0, 0, 0</tspan><tspan x="0" dy="14">0, 0, 0, 0, 0]</tspan></text></g>

<g id="leaf_j" transform="translate(1222,908.5)"><rect class="b" x="-127" y="-45.5" width="254" height="91"/><text y="-28.5"><tspan x="0">entropy = 1.0</tspan><tspan x="0" dy="14">samples = 2</tspan><tspan x="0" dy="14">value = [0, 0, 0, 0, 0, 0, 0, 0, 0, 0, 0, 0, 0, 0</tspan><tspan x="0" dy="14">0, 0, 0, 0, 0, 0, 0, 0, 0, 0, 0, 0, 0, 0</tspan><tspan x="0" dy="14">0, 0, 0, 0, 0, 0, 0, 0, 0, 0, 0, 0, 0, 0</tspan><tspan x="0" dy="14">0, 0, 0, 1, 1]</tspan></text></g>

<g id="leaf_k" transform="translate(1495,908.5)"><rect class="b" x="-127" y="-45.5" width="254" height="91"/><text y="-28.5"><tspan x="0">entropy = 0.0</tspan><tspan x="0" dy="14">samples = 1</tspan><tspan x="0" dy="14">value = [0, 0, 0, 0, 0, 0, 0, 0, 0, 0, 0, 0, 1, 0</tspan><tspan x="0" dy="14">0, 0, 0, 0, 0, 0, 0, 0, 0, 0, 0, 0, 0, 0</tspan><tspan x="0" dy="14">0, 0, 0, 0, 0, 0, 0, 0, 0, 0, 0, 0, 0, 0</tspan><tspan x="0" dy="14">0, 0, 0, 0, 0]</tspan></text></g>

<g id="leaf_4" transform="translate(4053,908.5)"><rect class="b" x="-127" y="-45.5" width="254" height="91"/><text y="-28.5"><tspan x="0">entropy = 0.0</tspan><tspan x="0" dy="14">samples = 1</tspan><tspan x="0" dy="14">value = [0, 0, 0, 0, 1, 0, 0, 0, 0, 0, 0, 0, 0, 0</tspan><tspan x="0" dy="14">0, 0, 0, 0, 0, 0, 0, 0, 0, 0, 0, 0, 0, 0</tspan><tspan x="0" dy="14">0, 0, 0, 0, 0, 0, 0, 0, 0, 0, 0, 0, 0, 0</tspan><tspan x="0" dy="14">0, 0, 0, 0, 0]</tspan></text></g>

<g id="leaf_7" transform="translate(4326,908.5)"><rect class="b" x="-127" y="-45.5" width="254" height="91"/><text y="-28.5"><tspan x="0">entropy = 0.0</tspan><tspan x="0" dy="14">samples = 1</tspan><tspan x="0" dy="14">value = [0, 0, 0, 0, 0, 0, 0, 1, 0, 0, 0, 0, 0, 0</tspan><tspan x="0" dy="14">0, 0, 0, 0, 0, 0, 0, 0, 0, 0, 0, 0, 0, 0</tspan><tspan x="0" dy="14">0, 0, 0, 0, 0, 0, 0, 0, 0, 0, 0, 0, 0, 0</tspan><tspan x="0" dy="14">0, 0, 0, 0, 0]</tspan></text></g>

<g id="leaf_0" transform="translate(5964,908.5)"><rect class="b" x="-127" y="-45.5" width="254" height="91"/><text y="-28.5"><tspan x="0">entropy = 0.0</tspan><tspan x="0" dy="14">samples = 1</tspan><tspan x="0" dy="14">value = [1, 0, 0, 0, 0, 0, 0, 0, 0, 0, 0, 0, 0, 0</tspan><tspan x="0" dy="14">0, 0, 0, 0, 0, 0, 0, 0, 0, 0, 0, 0, 0, 0</tspan><tspan x="0" dy="14">0, 0, 0, 0, 0, 0, 0, 0, 0, 0, 0, 0, 0, 0</tspan><tspan x="0" dy="14">0, 0, 0, 0, 0]</tspan></text></g>

<g id="leaf_1" transform="translate(6237,908.5)"><rect class="b" x="-127" y="-45.5" width="254" height="91"/><text y="-28.5"><tspan x="0">entropy = 0.0</tspan><tspan x="0" dy="14">samples = 1</tspan><tspan x="0" dy="14">value = [0, 1, 0, 0, 0, 0, 0, 0, 0, 0, 0, 0, 0, 0</tspan><tspan x="0" dy="14">0, 0, 0, 0, 0, 0, 0, 0, 0, 0, 0, 0, 0, 0</tspan><tspan x="0" dy="14">0, 0, 0, 0, 0, 0, 0, 0, 0, 0, 0, 0, 0, 0</tspan><tspan x="0" dy="14">0, 0, 0, 0, 0]</tspan></text></g>

<g id="leaf_l" transform="translate(677,1050.5)"><rect class="b" x="-127" y="-45.5" width="254" height="91"/><text y="-28.5"><tspan x="0">entropy = 1.0</tspan><tspan x="0" dy="14">samples = 2</tspan><tspan x="0" dy="14">value = [0, 0, 0, 0, 0, 0, 0, 0, 0, 0, 0, 0, 0, 0</tspan><tspan x="0" dy="14">0, 0, 0, 0, 0, 0, 0, 0, 0, 0, 0, 0, 0, 0</tspan><tspan x="0" dy="14">0, 0, 0, 0, 0, 0, 1, 1, 0, 0, 0, 0, 0, 0</tspan><tspan x="0" dy="14">0, 0, 0, 0, 0]</tspan></text></g>

<g id="leaf_m" transform="translate(950,1050.5)"><rect class="b" x="-127" y="-45.5" width="254" height="91"/><text y="-28.5"><tspan x="0">entropy = 0.0</tspan><tspan x="0" dy="14">samples = 1</tspan><tspan x="0" dy="14">value = [0, 0, 0, 0, 0, 0, 0, 0, 0, 0, 0, 1, 0, 0</tspan><tspan x="0" dy="14">0, 0, 0, 0, 0, 0, 0, 0, 0, 0, 0, 0, 0, 0</tspan><tspan x="0" dy="14">0, 0, 0, 0, 0, 0, 0, 0, 0, 0, 0, 0, 0, 0</tspan><tspan x="0" dy="14">0, 0, 0, 0, 0]</tspan></text></g>

<g id="leaf_n" transform="translate(1222,1050.5)"><rect class="b" x="-127" y="-45.5" width="254" height="91"/><text y="-28.5"><tspan x="0">entropy = 0.0</tspan><tspan x="0" dy="14">samples = 1</tspan><tspan x="0" dy="14">value = [0, 0, 0, 0, 0, 0, 0, 0, 0, 0, 0, 0, 0, 1</tspan><tspan x="0" dy="14">0, 0, 0, 0, 0, 0, 0, 0, 0, 0, 0, 0, 0, 0</tspan><tspan x="0" dy="14">0, 0, 0, 0, 0, 0, 0, 0, 0, 0, 0, 0, 0, 0</tspan><tspan x="0" dy="14">0, 0, 0, 0, 0]</tspan></text></g>

<g id="leaf_o" transform="translate(540,1192.5)"><rect class="b" x="-127" y="-45.5" width="254" height="91"/><text y="-28.5"><tspan x="0">entropy = 1.0</tspan><tspan x="0" dy="14">samples = 2</tspan><tspan x="0" dy="14">value = [0, 0, 0, 0, 0, 0, 0, 0, 0, 0, 0, 0, 0, 0</tspan><tspan x="0" dy="14">0, 1, 1, 0, 0, 0, 0, 0, 0, 0, 0, 0, 0, 0</tspan><tspan x="0" dy="14">0, 0, 0, 0, 0, 0, 0, 0, 0, 0, 0, 0, 0, 0</tspan><tspan x="0" dy="14">0, 0, 0, 0, 0]</tspan></text></g>

<g id="leaf_p" transform="translate(131,1326.5)"><rect class="b" x="-127" y="-45.5" width="254" height="91"/><text y="-28.5"><tspan x="0">entropy = 1.0</tspan><tspan x="0" dy="14">samples = 2</tspan><tspan x="0" dy="14">value = [0, 0, 0, 0, 0, 0, 0, 0, 0, 0, 0, 0, 0, 0</tspan><tspan x="0" dy="14">0, 0, 0, 0, 0, 0, 0, 0, 0, 0, 0, 0, 0, 0</tspan><tspan x="0" dy="14">0, 1, 1, 0, 0, 0, 0, 0, 0, 0, 0, 0, 0, 0</tspan><tspan x="0" dy="14">0, 0, 0, 0, 0]</tspan></text></g>

<g id="leaf_q" transform="translate(404,1326.5)"><rect class="b" x="-127" y="-45.5" width="254" height="91"/><text y="-28.5"><tspan x="0">entropy = 0.0</tspan><tspan x="0" dy="14">samples = 1</tspan><tspan x="0" dy="14">value = [0, 0, 0, 0, 0, 0, 0, 0, 0, 0, 0, 0, 0, 0</tspan><tspan x="0" dy="14">0, 0, 0, 0, 0, 0, 0, 0, 0, 0, 0, 0, 0, 0</tspan><tspan x="0" dy="14">0, 0, 0, 0, 1, 0, 0, 0, 0, 0, 0, 0, 0, 0</tspan><tspan x="0" dy="14">0, 0, 0, 0, 0]</tspan></text></g>
</svg>
